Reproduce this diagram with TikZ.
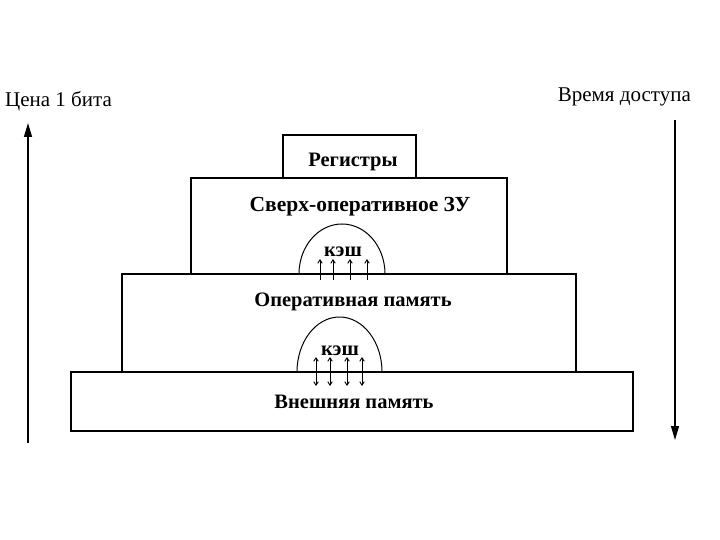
\documentclass[tikz,border=0pt]{standalone}
\usepackage{fontspec}
\setmainfont{Liberation Serif}
\usetikzlibrary{arrows.meta,positioning}

\begin{document}
\begin{tikzpicture}[
    x=1pt, y=-1pt,
    font=\fontsize{21}{24}\selectfont,
    level/.style={draw, line width=1.4pt, inner sep=0pt},
    ltext/.style={font=\fontsize{20.5}{24}\selectfont\bfseries, inner sep=0pt},
    axlabel/.style={inner sep=0pt},
    axis/.style={line width=1.3pt, -{Triangle[length=14pt,width=8pt]}},
    dome/.style={line width=1pt},
    upflow/.style={line width=0.9pt, -{Straight Barb[length=3.5pt,width=4.5pt]}},
    bothflow/.style={line width=0.9pt,
        {Straight Barb[length=3.5pt,width=4.5pt]}-{Straight Barb[length=3.5pt,width=4.5pt]}},
]
    \useasboundingbox (0,0) rectangle (720,540);

    % ============================================================
    %  LEVELS OF THE PYRAMID
    % ============================================================
    \node[level, minimum width=133pt, minimum height=43pt] (regs) at (349.5,156.5) {};
    \node[level, minimum width=316pt, minimum height=96pt] (fast) at (349,226) {};
    \node[level, minimum width=454pt, minimum height=98pt] (main) at (349,323) {};
    \node[level, minimum width=562pt, minimum height=59pt] (ext) at (352,401.5) {};

    \node[ltext] (tregs) at (353,162) {Регистры};
    \node[ltext, font=\fontsize{21.5}{24}\selectfont\bfseries] (tfast) at (360,207) {Сверх-оперативное ЗУ};
    \node[ltext] (tmain) at (353,302) {Оперативная память};
    \node[ltext] (text) at (354,402) {Внешняя память};

    % ============================================================
    %  CACHES
    % ============================================================
    \draw[dome] (299,274) arc[start angle=180, end angle=360, x radius=43, y radius=50];
    \node[ltext] (cache1) at (343,252) {кэш};
    \foreach \x [count=\i] in {320,333,350,367} {
        \coordinate (lo\i) at (\x,280);
        \coordinate (hi\i) at (\x,259);
        \draw[upflow] (lo\i) -- (hi\i);
    }

    \draw[dome] (297,372) arc[start angle=180, end angle=360, x radius=42.5, y radius=55];
    \node[ltext] (cache2) at (340,351) {кэш};
    \foreach \x [count=\i] in {316,330,347,362} {
        \coordinate (dn\i) at (\x,386);
        \coordinate (up\i) at (\x,357);
        \draw[bothflow] (dn\i) -- (up\i);
    }

    % ============================================================
    %  AXES
    % ============================================================
    \node[axlabel, anchor=west] (cost) at (5,101) {Цена 1 бита};
    \node[axlabel, anchor=east] (time) at (691,97) {Время доступа};
    \coordinate (cost0) at (28,443);
    \coordinate (cost1) at (28,123);
    \coordinate (time0) at (675,120);
    \coordinate (time1) at (675,440);
    \draw[axis] (cost0) -- (cost1);
    \draw[axis] (time0) -- (time1);

\end{tikzpicture}
\end{document}
